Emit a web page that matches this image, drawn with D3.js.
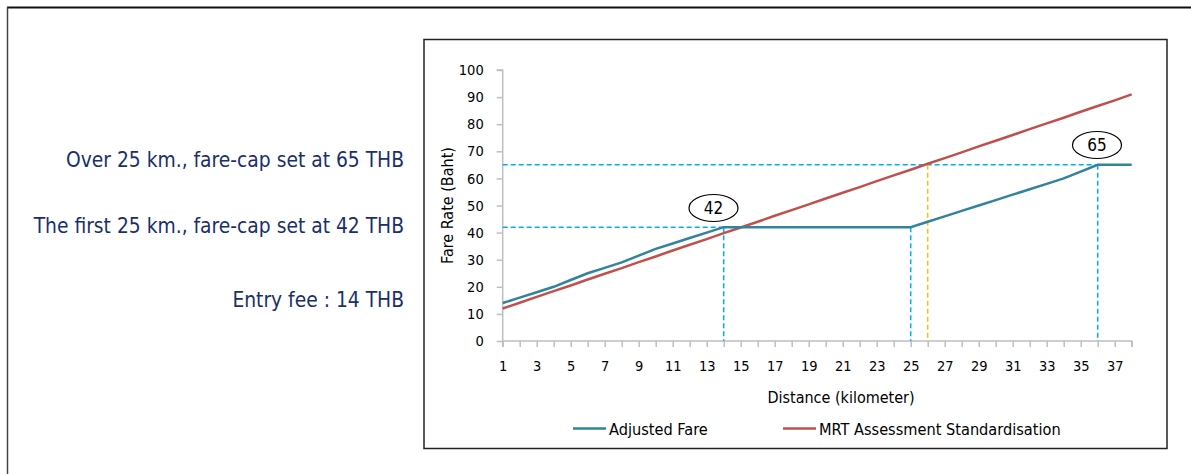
<!DOCTYPE html>
<html>
<head>
<meta charset="utf-8">
<script src="https://cdn.jsdelivr.net/npm/d3@7"></script>
<style>
  html, body { margin: 0; padding: 0; background: #fff; }
  svg { display: block; }
  text { font-family: "DejaVu Sans Condensed", "DejaVu Sans", sans-serif; }
</style>
</head>
<body>
<svg id="chart" width="1191" height="474"></svg>
<script>
// Distance along the line (km)
const distanceKm = [1,2,3,4,5,6,7,8,9,10,11,12,13,14,15,16,17,18,19,20,21,22,23,24,25,26,27,28,29,30,31,32,33,34,35,36,37,38];
// Fare after the cap adjustment (Baht)
const adjustedFare = [14,16,18,20,22.5,25,27,29,31.5,34,36,38,40,42,42,42,42,42,42,42,42,42,42,42,42,44,46,48,50,52,54,56,58,60,62.5,65,65,65];
// Fare from the MRT assessment standard (Baht)
const mrtStandard = [12.0,14.1,16.3,18.4,20.5,22.7,24.8,26.9,29.1,31.2,33.4,35.5,37.6,39.8,41.9,44.0,46.2,48.3,50.4,52.6,54.7,56.8,59.0,61.1,63.2,65.4,67.5,69.6,71.8,73.9,76.0,78.2,80.3,82.4,84.6,86.7,88.8,91.0];
const yTicks = [0,10,20,30,40,50,60,70,80,90,100];
const xTickLabels = [1,3,5,7,9,11,13,15,17,19,21,23,25,27,29,31,33,35,37];
const seriesNames = ["Adjusted Fare", "MRT Assessment Standardisation"];
// Fare caps and where they take effect
const capLevels = [42, 65];
const capStartKm = [14, 36];
const firstCapEndKm = 25;
const crossoverKm = 26;
const notes = ["Over 25 km., fare-cap set at 65 THB", "The first 25 km., fare-cap set at 42 THB", "Entry fee : 14 THB"];

const svg = d3.select("#chart");
const teal = "#31849B", red = "#C0504D", cyan = "#00B0F0", amber = "#FFC000", axisGrey = "#BFBFBF";

// page frame
svg.append("line").attr("x1", 7).attr("x2", 1191).attr("y1", 7.5).attr("y2", 7.5)
  .attr("stroke", "#111").attr("stroke-width", 2);
svg.append("line").attr("x1", 7.5).attr("x2", 7.5).attr("y1", 7).attr("y2", 474)
  .attr("stroke", "#444").attr("stroke-width", 1.5);

// side notes
const noteY = [167, 233, 307];
svg.selectAll("text.note").data(notes).join("text")
  .attr("class", "note")
  .attr("x", 404).attr("y", (d, i) => noteY[i])
  .attr("text-anchor", "end")
  .attr("font-size", 20.8)
  .attr("fill", "#1B2F6B")
  .text(d => d);

// chart box
svg.append("rect").attr("x", 424).attr("y", 39.5).attr("width", 743).attr("height", 409)
  .attr("fill", "#fff").attr("stroke", "#222").attr("stroke-width", 1.5);

const x = d3.scaleLinear().domain([1, 38]).range([502.7, 1131.7]);
const y = d3.scaleLinear().domain([0, 100]).range([341, 70]);

// y axis
const yAxis = svg.append("g").attr("transform", `translate(${x(1)},0)`)
  .call(d3.axisLeft(y).tickValues(yTicks).tickSize(6).tickPadding(13));
yAxis.select(".domain").attr("stroke", axisGrey).attr("stroke-width", 1.5).attr("d", `M-6,${y(100)}H0V${y(0)}`);
yAxis.selectAll(".tick line").attr("stroke", axisGrey).attr("stroke-width", 1.5);
yAxis.selectAll(".tick text").attr("font-size", 14.5).attr("fill", "#000")
  .attr("font-family", "DejaVu Sans Condensed, DejaVu Sans, sans-serif");

// x axis
const xAxis = svg.append("g").attr("transform", `translate(0,${y(0)})`)
  .call(d3.axisBottom(x).tickValues(distanceKm).tickSize(6).tickPadding(14)
    .tickFormat(d => xTickLabels.includes(d) ? d : ""));
xAxis.select(".domain").attr("stroke", axisGrey).attr("stroke-width", 1.5).attr("d", `M${x(1)},6V0H${x(38)}V6`);
xAxis.selectAll(".tick line").attr("stroke", axisGrey).attr("stroke-width", 1.5);
xAxis.selectAll(".tick text").attr("font-size", 14.5).attr("fill", "#000")
  .attr("font-family", "DejaVu Sans Condensed, DejaVu Sans, sans-serif");

// axis titles
svg.append("text").attr("transform", `translate(453,${(y(0) + y(100)) / 2}) rotate(-90)`)
  .attr("text-anchor", "middle").attr("font-size", 16).attr("fill", "#000").text("Fare Rate (Baht)");
svg.append("text").attr("x", 841).attr("y", 403)
  .attr("text-anchor", "middle").attr("font-size", 16).attr("fill", "#000").text("Distance (kilometer)");

// cap guide lines
const guides = svg.append("g").attr("fill", "none").attr("stroke-width", 1.5).attr("stroke-dasharray", "5,3");
guides.append("line").attr("stroke", cyan)
  .attr("x1", x(1)).attr("x2", x(capStartKm[0])).attr("y1", y(capLevels[0])).attr("y2", y(capLevels[0]));
guides.append("line").attr("stroke", cyan)
  .attr("x1", x(capStartKm[0])).attr("x2", x(capStartKm[0])).attr("y1", y(capLevels[0])).attr("y2", y(0));
guides.append("line").attr("stroke", cyan)
  .attr("x1", x(firstCapEndKm)).attr("x2", x(firstCapEndKm)).attr("y1", y(capLevels[0])).attr("y2", y(0));
guides.append("line").attr("stroke", cyan)
  .attr("x1", x(1)).attr("x2", x(capStartKm[1])).attr("y1", y(capLevels[1])).attr("y2", y(capLevels[1]));
guides.append("line").attr("stroke", cyan)
  .attr("x1", x(capStartKm[1])).attr("x2", x(capStartKm[1])).attr("y1", y(capLevels[1])).attr("y2", y(0));
guides.append("line").attr("stroke", amber)
  .attr("x1", x(crossoverKm)).attr("x2", x(crossoverKm)).attr("y1", y(capLevels[1])).attr("y2", y(0));

// series
const line = d3.line().x(d => x(d[0])).y(d => y(d[1]));
svg.append("path").datum(distanceKm.map((k, i) => [k, mrtStandard[i]]))
  .attr("d", line).attr("fill", "none").attr("stroke", red).attr("stroke-width", 2.5);
svg.append("path").datum(distanceKm.map((k, i) => [k, adjustedFare[i]]))
  .attr("d", line).attr("fill", "none").attr("stroke", teal).attr("stroke-width", 2.5);

// cap callouts
const callouts = [
  { v: capLevels[0], cx: 713.5, cy: 208 },
  { v: capLevels[1], cx: 1097, cy: 145 }
];
const cg = svg.selectAll("g.callout").data(callouts).join("g").attr("class", "callout");
cg.append("ellipse").attr("cx", d => d.cx).attr("cy", d => d.cy).attr("rx", 24.5).attr("ry", 13.5)
  .attr("fill", "#fff").attr("stroke", "#000").attr("stroke-width", 1.2);
cg.append("text").attr("x", d => d.cx).attr("y", d => d.cy + 6)
  .attr("text-anchor", "middle").attr("font-size", 17).attr("fill", "#000").text(d => d.v);

// legend
const legend = [
  { name: seriesNames[0], color: teal, x0: 573 },
  { name: seriesNames[1], color: red, x0: 783 }
];
const lg = svg.selectAll("g.legend").data(legend).join("g").attr("class", "legend");
lg.append("line").attr("x1", d => d.x0).attr("x2", d => d.x0 + 33).attr("y1", 428.5).attr("y2", 428.5)
  .attr("stroke", d => d.color).attr("stroke-width", 2.5);
lg.append("text").attr("x", d => d.x0 + 36).attr("y", 434.5).attr("font-size", 16.2).attr("fill", "#000").text(d => d.name);
</script>
</body>
</html>
